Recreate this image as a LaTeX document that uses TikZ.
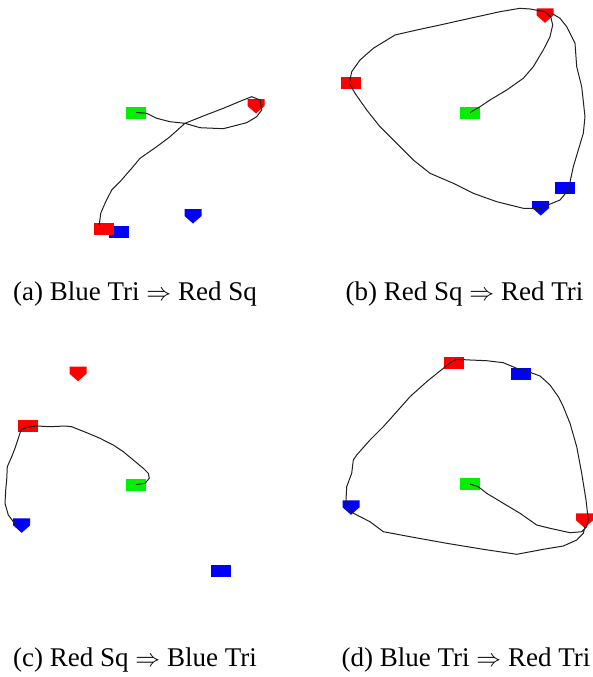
\documentclass[tikz,border=0pt]{standalone}
\usepackage{fontspec}
\setmainfont{Liberation Serif}
\definecolor{mark-red}{HTML}{FF0000}
\definecolor{mark-green}{HTML}{00F000}
\definecolor{mark-blue}{HTML}{0000FF}
\definecolor{trail-grey}{HTML}{202020}

\tikzset{
  sqmark/.style={rectangle, inner sep=0pt, minimum width=20pt,
    minimum height=12pt, fill=#1},
  trimark/.pic={\fill[#1] (-8.5,0) -- (8.5,0) -- (8.5,7) -- (0,14.5)
    -- (-8.5,7) -- cycle;},
  trimark/.default=mark-red,
  trail/.style={trail-grey, line width=1pt, line join=round},
  caption/.style={anchor=base, font=\fontsize{27}{30}\selectfont, inner sep=0pt}
}

\begin{document}
\begin{tikzpicture}[x=1pt, y=-1pt]
  \useasboundingbox (0,0) rectangle (592,677);

  % (a)
  \node[sqmark=mark-blue] (aBS) at (119,232) {};
  \node[sqmark=mark-red] (aRS) at (104,228.5) {};
  \node[sqmark=mark-green] (aG) at (136,112.5) {};
  \pic at (256,99) {trimark=mark-red};
  \pic at (193,209) {trimark=mark-blue};
  \draw[trail] (aG.center) -- (146.7,113.3) -- (156.7,118.3) -- (170,121.7)
    -- (185,123.3) -- (200,127.7) -- (223.3,128.7) -- (246.7,122.7)
    -- (256.7,116.7) -- (261.7,110) -- (260,100) -- (251.7,96.7)
    -- (243.3,100) -- (223.3,108.3) -- (203.3,116) -- (185,123.3)
    -- (170,136.7) -- (156.7,146.7) -- (140,158.3) -- (131.7,168.3)
    -- (120,181.7) -- (111.7,190) -- (105,203.3) -- (100.7,213.3)
    -- (99.3,225);
  \node[caption] (capA) at (135,300) {(a) Blue Tri $\Rightarrow$ Red Sq};

  % (b)
  \node[sqmark=mark-red] (bRS) at (351,83.3) {};
  \node[sqmark=mark-green] (bG) at (470,112.5) {};
  \node[sqmark=mark-blue] (bBS) at (565,187.5) {};
  \pic at (545,8.3) {trimark=mark-red};
  \pic at (540.7,201) {trimark=mark-blue};
  \draw[trail] (bG.center) -- (480,106.7) -- (490,100) -- (506.7,90)
    -- (523.3,78.3) -- (533.3,66.7) -- (543.3,50) -- (550,36.7)
    -- (552.7,25) -- (550.7,16.7) -- (545,11.7) -- (530,9) -- (520,8.3)
    -- (500,11.7) -- (470,18.3) -- (440,25) -- (416.7,30) -- (395,35)
    -- (373.3,48.3) -- (360,60) -- (351.7,71.7) -- (349.3,83.3)
    -- (355,93.3) -- (366.7,110) -- (380,126.7) -- (396.7,143.3)
    -- (413.3,160) -- (430,173.3) -- (453.3,183.3) -- (473.3,193.3)
    -- (496.7,201.7) -- (523.3,208.3) -- (540,208.3) -- (560,200)
    -- (568.3,190) -- (573.3,166.7) -- (578.3,150) -- (583.3,133.3)
    -- (585,116.7) -- (581.7,86.7) -- (576.7,66.7) -- (575,43.3)
    -- (566.7,26.7) -- (560,18.3) -- (551.7,13.3);
  \node[caption] (capB) at (464.5,300) {(b) Red Sq $\Rightarrow$ Red Tri};

  % (c)
  \node[sqmark=mark-red] (cRS) at (27.7,426) {};
  \node[sqmark=mark-green] (cG) at (136,484.5) {};
  \node[sqmark=mark-blue] (cBS) at (221,570.5) {};
  \pic at (78,366.7) {trimark=mark-red};
  \pic at (21.7,518.3) {trimark=mark-blue};
  \draw[trail] (cG.center) -- (145,483.3) -- (149.3,478.3) -- (148.3,473.3)
    -- (143.3,468.3) -- (133.3,460) -- (123.3,451.7) -- (113.3,445)
    -- (100,438.3) -- (86.7,432.7) -- (71.7,426.7) -- (65,426)
    -- (50,426.7) -- (36.7,426) -- (26.7,427.3) -- (21,430)
    -- (18.3,438.3) -- (15,448.3) -- (11.7,456.7) -- (7.3,466.7)
    -- (6.7,480) -- (5.7,490) -- (5,503.3) -- (8.3,515) -- (13.3,521.7)
    -- (18.3,525);
  \node[caption] (capC) at (135,666.7) {(c) Red Sq $\Rightarrow$ Blue Tri};

  % (d)
  \node[sqmark=mark-red] (dRS) at (454,363.3) {};
  \node[sqmark=mark-blue] (dBS) at (521,374) {};
  \node[sqmark=mark-green] (dG) at (470,484) {};
  \pic at (351,500.3) {trimark=mark-blue};
  \pic at (584.5,513.3) {trimark=mark-red};
  \draw[trail] (dG.center) -- (478.3,486.7) -- (486.7,493.3) -- (503.3,503.3)
    -- (520,513.3) -- (536.7,525) -- (550,528.3) -- (570,532.7)
    -- (581.7,531.7) -- (586.7,526.7) -- (588.3,520) -- (586,500)
    -- (581.7,473.3) -- (576.7,446.7) -- (570,423.3) -- (563.3,406.7)
    -- (558.3,396.7) -- (550,385) -- (540,376) -- (530,372.3)
    -- (516.7,368.3) -- (503.3,362.7) -- (486.7,360.7) -- (470,360)
    -- (456.7,359.3) -- (450,362.7) -- (443.3,368.3) -- (426.7,381.7)
    -- (410,396.7) -- (396.7,411.7) -- (383.3,426.7) -- (370,440)
    -- (356.7,455) -- (353.3,460) -- (351.7,473.3) -- (346.7,486.7)
    -- (346,500) -- (348.3,510) -- (356.7,515) -- (370,521.7)
    -- (383.3,531.7) -- (410,536.7) -- (446.7,543.3) -- (483.3,549.3)
    -- (516.7,554.3) -- (543.3,549.3) -- (563.3,546) -- (576.7,540)
    -- (583.3,533.3) -- (585,526.7);
  \node[caption] (capD) at (466,666.7) {(d) Blue Tri $\Rightarrow$ Red Tri};
\end{tikzpicture}
\end{document}
